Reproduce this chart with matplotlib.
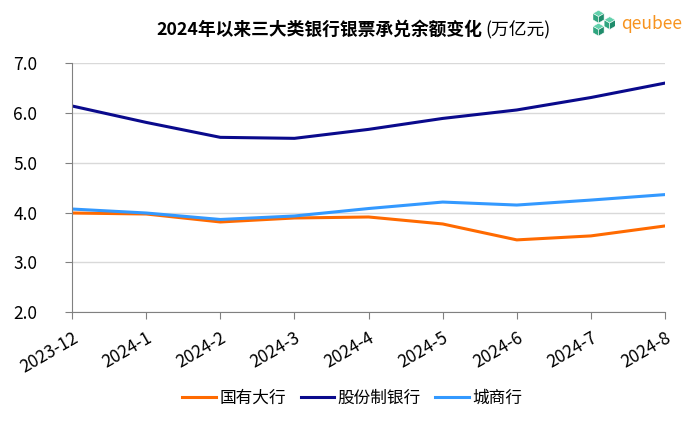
import numpy as np
import matplotlib
matplotlib.use("Agg")
import matplotlib.pyplot as plt
from matplotlib.patches import Polygon

plt.rcParams['font.family'] = ['Noto Sans CJK SC', 'DejaVu Sans']

months = ["2023-12", "2024-1", "2024-2", "2024-3", "2024-4",
          "2024-5", "2024-6", "2024-7", "2024-8"]
state_banks = [3.99, 3.97, 3.81, 3.89, 3.91, 3.77, 3.45, 3.53, 3.73]
joint_stock = [6.14, 5.81, 5.51, 5.49, 5.67, 5.89, 6.06, 6.31, 6.60]
city_banks = [4.07, 3.99, 3.86, 3.93, 4.08, 4.21, 4.15, 4.25, 4.36]
names = ["国有大行", "股份制银行", "城商行"]
colors = ["#FF6A00", "#0A0A8C", "#3399FF"]

fig = plt.figure(figsize=(7, 4.24), dpi=100)
ax = fig.add_axes([0.103, 0.264, 0.847, 0.587])

x = np.arange(len(months))
for vals, name, c in zip([state_banks, joint_stock, city_banks], names, colors):
    ax.plot(x, vals, color=c, linewidth=2.2, label=name)

ax.set_xlim(0, len(months) - 1)
ax.set_ylim(2.0, 7.0)
yt = np.arange(2.0, 7.01, 1.0)
ax.set_yticks(yt)
ax.set_yticklabels(["%.1f" % v for v in yt], fontsize=12.5)
ax.set_xticks(x)
ax.set_xticklabels(months, rotation=30, ha="right", rotation_mode="anchor", fontsize=12.5)

ax.grid(axis="y", color="#D9D9D9", linewidth=1)
ax.set_axisbelow(True)
for s in ["top", "right"]:
    ax.spines[s].set_visible(False)
for s in ["left", "bottom"]:
    ax.spines[s].set_color("#808080")
ax.tick_params(axis="both", direction="out", length=5, color="#808080", labelcolor="#000000")
ax.tick_params(axis="y", pad=20)
ax.tick_params(axis="x", pad=7)

fig.legend(loc="center", bbox_to_anchor=(0.503, 0.061), ncol=3, frameon=False,
           fontsize=12, handlelength=2.0, handletextpad=0.2, columnspacing=0.9)

# title
fig.text(0.689, 0.929, "2024年以来三大类银行银票承兑余额变化", ha="right", va="center",
         fontsize=12.8, fontweight="bold")
fig.text(0.694, 0.929, "(万亿元)", ha="left", va="center", fontsize=12.8)

# logo: three small cubes + word mark
lax = fig.add_axes([0.847, 0.915, 0.032, 0.061])
lax.set_xlim(-0.87, 2.6)
lax.set_ylim(-2.0, 2.0)
lax.axis("off")
ang = np.radians([90, 150, 210, 270, 330, 30])
for cx, cy in [(0, -1), (1.732, 0), (0, 1)]:
    v = [(cx + np.cos(a), cy + np.sin(a)) for a in ang]
    c0 = (cx, cy)
    lax.add_patch(Polygon([c0, v[5], v[0], v[1]], color="#62D1AC", ec="white", lw=0.4))
    lax.add_patch(Polygon([c0, v[1], v[2], v[3]], color="#2FA57F", ec="white", lw=0.4))
    lax.add_patch(Polygon([c0, v[3], v[4], v[5]], color="#1F8C6B", ec="white", lw=0.4))
fig.text(0.888, 0.944, "qeubee", ha="left", va="center", fontsize=12.5, color="#F7931E")

fig.savefig("out.png", dpi=100)
